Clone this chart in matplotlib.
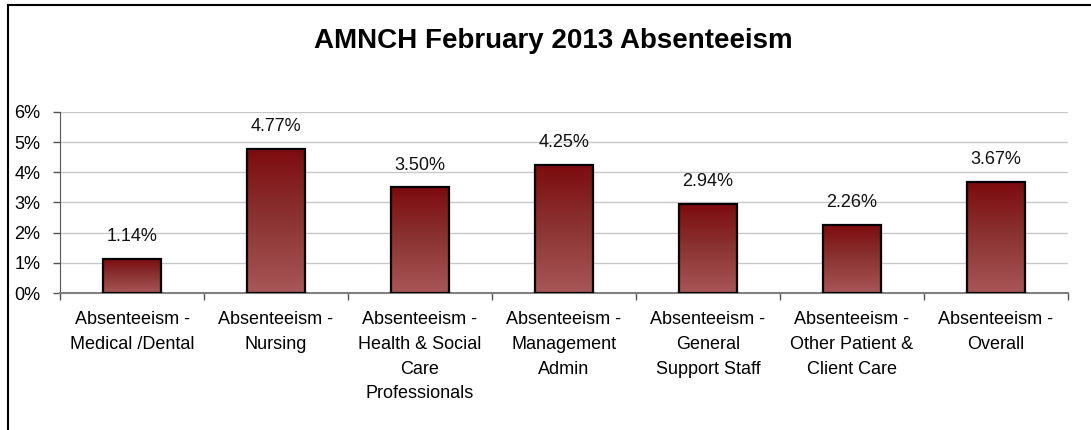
import numpy as np
import matplotlib
matplotlib.use("Agg")
import matplotlib.pyplot as plt
from matplotlib.colors import LinearSegmentedColormap
from matplotlib.lines import Line2D
from matplotlib.ticker import FuncFormatter

categories = [
    "Absenteeism -\nMedical /Dental",
    "Absenteeism -\nNursing",
    "Absenteeism -\nHealth & Social\nCare\nProfessionals",
    "Absenteeism -\nManagement\nAdmin",
    "Absenteeism -\nGeneral\nSupport Staff",
    "Absenteeism -\nOther Patient &\nClient Care",
    "Absenteeism -\nOverall",
]
values = [1.14, 4.77, 3.50, 4.25, 2.94, 2.26, 3.67]
value_labels = ["1.14%", "4.77%", "3.50%", "4.25%", "2.94%", "2.26%", "3.67%"]
title = "AMNCH February 2013 Absenteeism"

plt.rcParams["font.family"] = ["Liberation Sans", "DejaVu Sans"]

fig = plt.figure(figsize=(10.91, 4.30), dpi=100)
ax = fig.add_axes([0.055, 0.3186, 0.9239, 0.4214])

x = np.arange(len(values))
bars = ax.bar(x, values, width=0.4, facecolor="none", edgecolor="black",
              linewidth=1.6, zorder=3)

# vertical gradient inside each bar (dark red top -> lighter bottom)
cmap = LinearSegmentedColormap.from_list("bar", ["#a95656", "#8c3434", "#7d0b0d"])
grad = np.linspace(0, 1, 256).reshape(-1, 1)
for b in bars:
    x0, w, h = b.get_x(), b.get_width(), b.get_height()
    im = ax.imshow(grad, extent=[x0, x0 + w, 0, h], origin="lower",
                   aspect="auto", cmap=cmap, zorder=2)
    im.set_clip_path(b)

for xi, v, lab in zip(x, values, value_labels):
    ax.annotate(lab, (xi, v), xytext=(0, 16), textcoords="offset points",
                ha="center", va="center", fontsize=13, color="#111111")

ax.set_xlim(-0.5, len(values) - 0.5)
ax.set_ylim(0, 6)
ax.set_yticks(range(0, 7))
ax.yaxis.set_major_formatter(FuncFormatter(lambda v, p: f"{int(v)}%"))
ax.grid(axis="y", color="#c8c8c8", linewidth=1.0, zorder=0)
ax.set_axisbelow(True)

ax.set_xticks(x)
ax.set_xticklabels(categories, fontsize=13, linespacing=1.6)
ax.set_xticks(np.arange(-0.5, len(values)), minor=True)
ax.tick_params(axis="x", which="major", length=0, pad=13)
ax.tick_params(axis="x", which="minor", length=5, width=1, color="#555555")
ax.tick_params(axis="y", length=5, width=1, color="#555555", labelsize=13, pad=9)

for side in ("top", "right"):
    ax.spines[side].set_visible(False)
ax.spines["left"].set_color("#555555")
ax.spines["bottom"].set_color("#808080")
ax.spines["bottom"].set_linewidth(1.5)

fig.text(0.507, 0.905, title, ha="center", va="center",
         fontsize=20, fontweight="bold")

# outer chart border (cropped at right and bottom)
fig.add_artist(Line2D([8 / 1091, 1.0], [1 - 5 / 430] * 2, color="black",
                      linewidth=1.5, transform=fig.transFigure))
fig.add_artist(Line2D([8 / 1091] * 2, [0.0, 1 - 5 / 430], color="black",
                      linewidth=1.5, transform=fig.transFigure))

fig.savefig("out.png", dpi=100)
